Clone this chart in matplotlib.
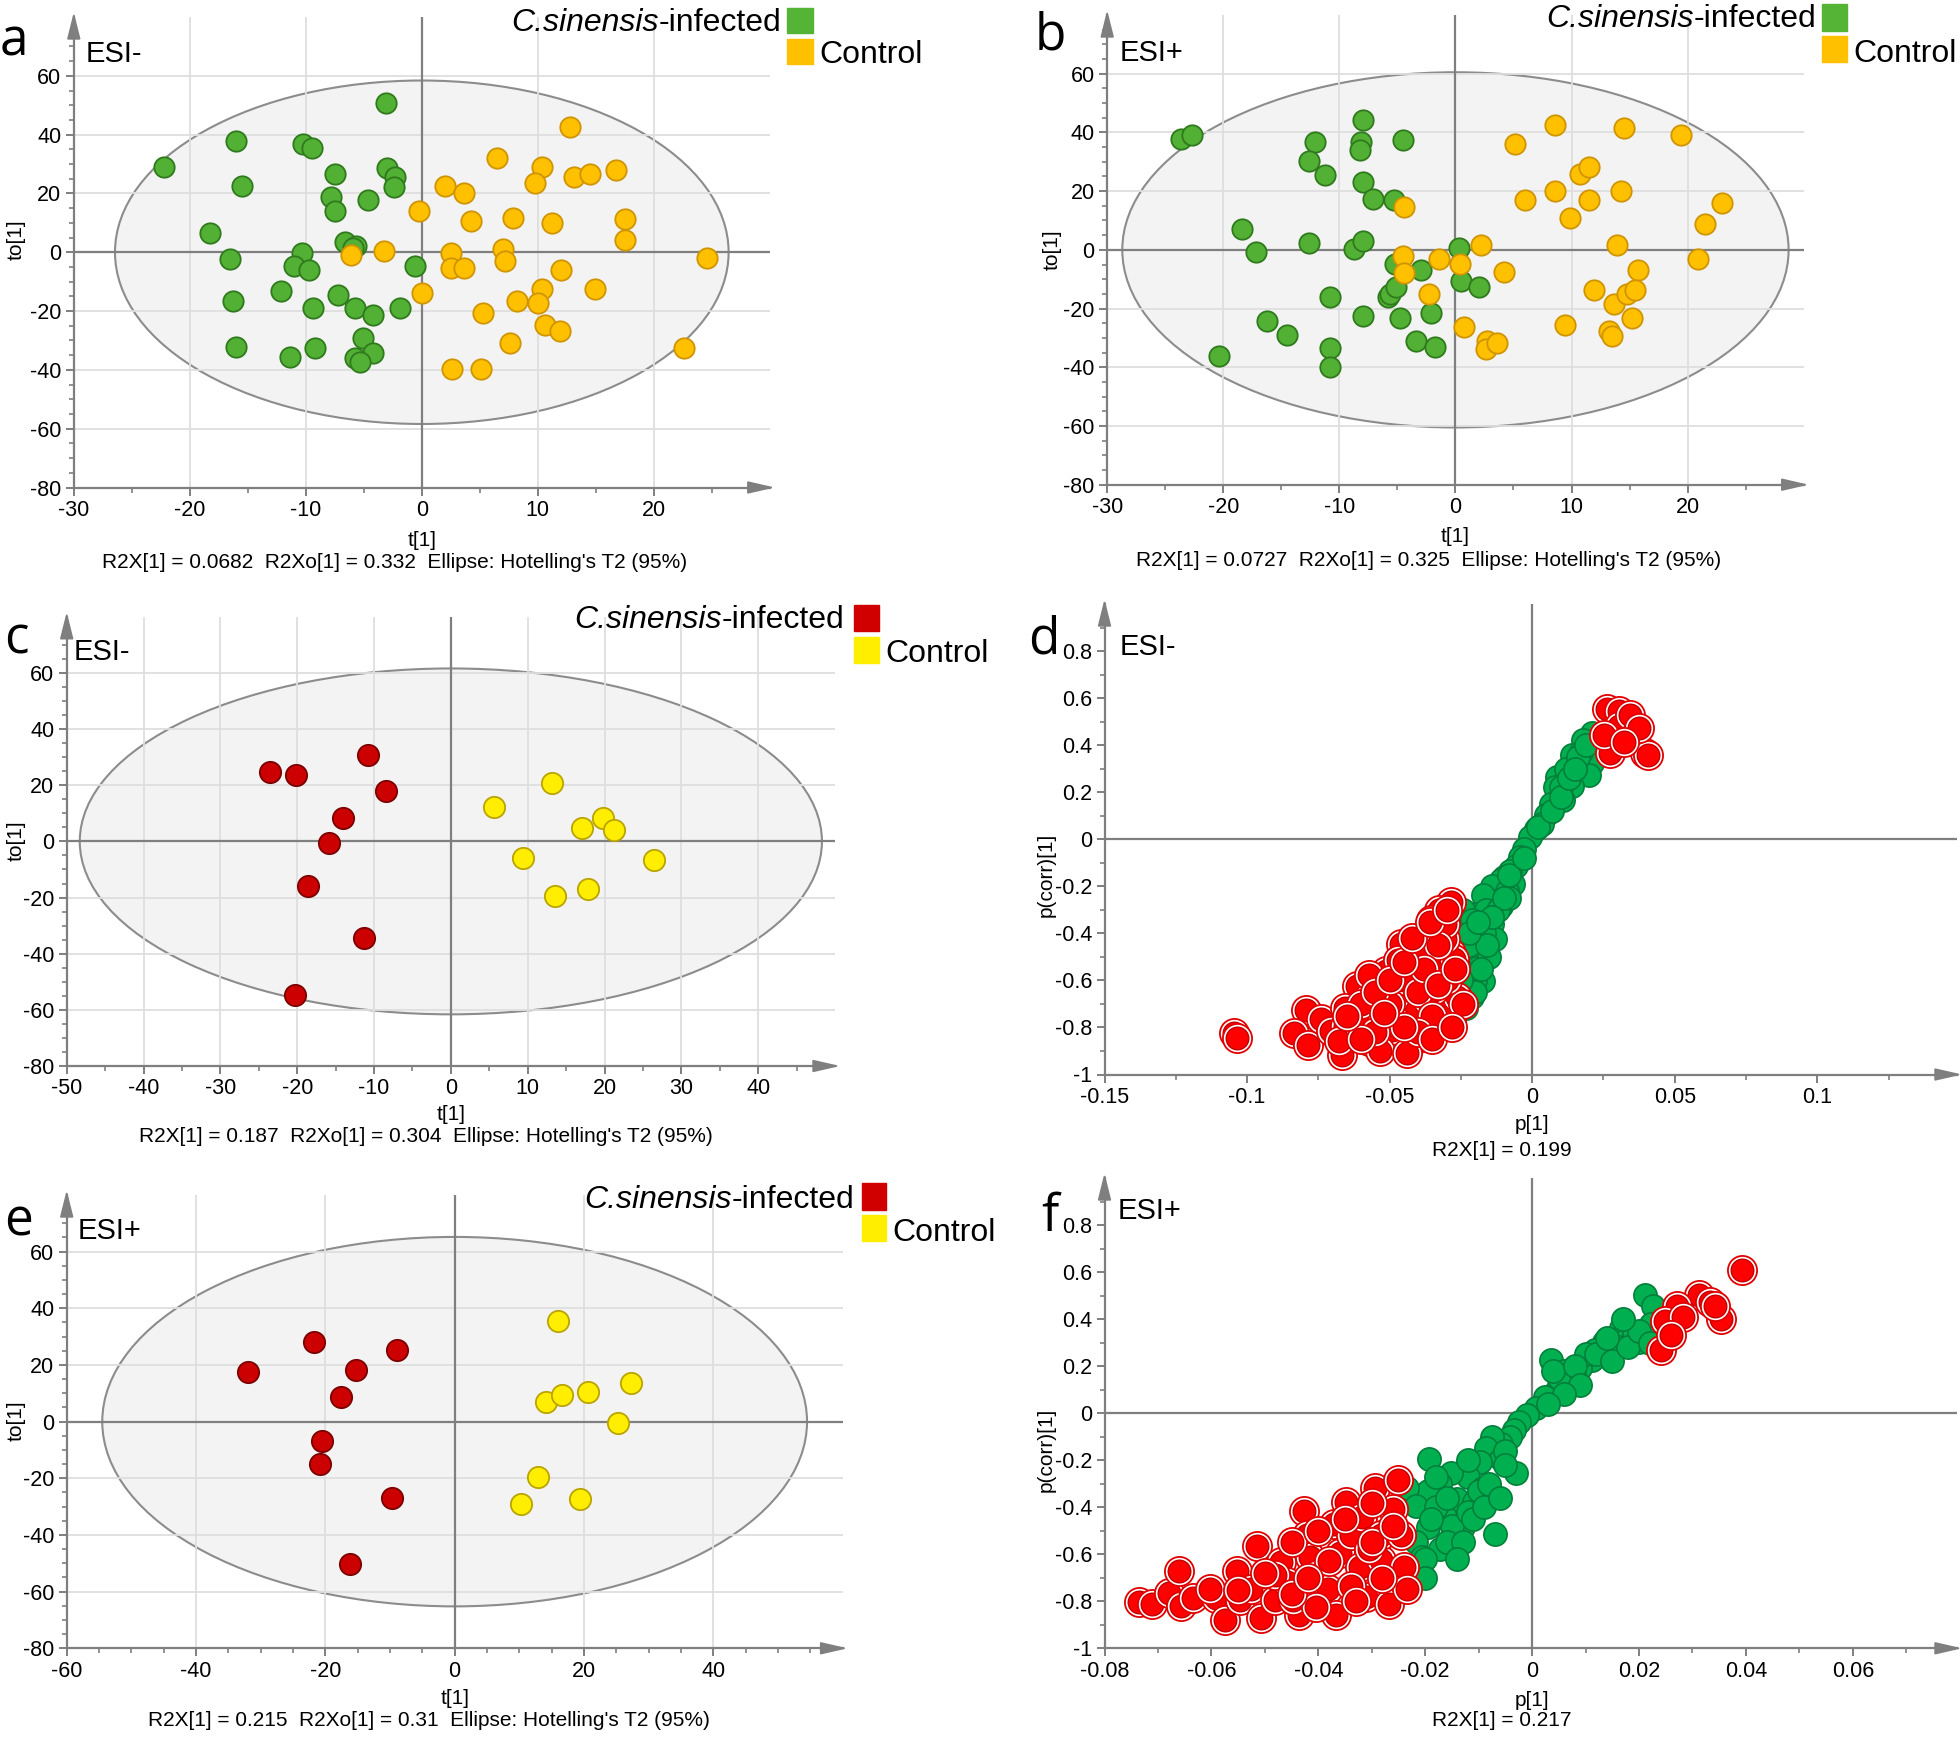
import matplotlib
matplotlib.use('Agg')
import matplotlib.pyplot as plt
from matplotlib.patches import Ellipse, Polygon, Rectangle
import numpy as np

plt.rcParams['font.family'] = ['Liberation Sans', 'DejaVu Sans']

# ---------------- data ----------------
# a: OPLS-DA scores, ESI-, 36 vs 36
a_inf_t = [-22.2, -16.0, -15.5, -18.3, -16.5, -16.3, -16.0, -10.2, -9.5, -7.5, -7.8, -7.5,
           -3.1, -3.0, -2.3, -2.4, -4.6, -6.6, -5.7, -5.9, -10.3, -11.0, -9.7, -12.1,
           -7.2, -9.4, -5.8, -4.2, -1.9, -0.6, -5.1, -4.2, -5.8, -5.3, -11.4, -9.2]
a_inf_to = [29.0, 37.8, 22.4, 6.4, -2.4, -16.6, -32.1, 36.9, 35.4, 26.7, 18.9, 14.1,
            50.9, 28.5, 25.5, 22.2, 17.6, 3.5, 2.0, 1.4, -0.4, -4.7, -6.0, -13.1,
            -14.4, -18.9, -18.9, -21.4, -18.9, -4.7, -29.1, -34.4, -35.9, -37.4, -35.7, -32.6]
a_ctl_t = [12.8, 6.5, 10.4, 9.8, 13.1, 14.5, 16.7, 2.0, 3.6, -0.2, 4.2, 7.9,
           11.2, 17.5, 17.5, -3.3, -6.1, 2.5, 2.5, 3.6, 7.0, 7.2, 12.0, 24.6,
           0.0, 10.4, 14.9, 8.2, 10.0, 5.3, 10.6, 11.9, 7.6, 22.6, 2.6, 5.1]
a_ctl_to = [42.6, 31.9, 29.0, 23.7, 25.5, 26.7, 27.9, 22.4, 20.2, 14.1, 10.6, 11.7,
            10.0, 11.2, 4.0, 0.5, -1.1, -0.4, -5.5, -5.5, 1.1, -3.0, -6.0, -1.8,
            -13.7, -12.4, -12.4, -16.6, -17.3, -20.8, -24.8, -26.7, -30.9, -32.6, -39.8, -39.8]

# b: OPLS-DA scores, ESI+
b_inf_t = [-23.6, -22.7, -18.4, -17.2, -12.1, -12.6, -11.2, -12.6, -8.0, -8.1, -8.2, -4.5,
           -8.0, -7.1, -5.3, -8.7, -8.0, -5.2, -3.0, 0.3, 0.5, 2.0, -5.8, -5.6,
           -5.1, -10.8, -16.2, -14.5, -20.4, -10.8, -10.8, -8.0, -4.8, -2.1, -3.4, -1.8]
b_inf_to = [37.9, 39.0, 7.0, -0.8, 36.7, 30.2, 25.5, 2.4, 44.4, 36.9, 34.1, 37.4,
            23.1, 17.2, 17.0, 0.3, 3.0, -4.7, -7.0, 0.5, -10.6, -12.5, -16.1, -15.1,
            -12.6, -16.0, -24.4, -28.9, -36.1, -33.6, -39.9, -22.5, -23.1, -21.4, -30.9, -33.2]
b_ctl_t = [-4.4, -4.5, -4.4, -1.4, 0.4, 2.2, -2.3, 4.2, 0.7, 2.7, 2.6, 3.6,
           5.1, 6.0, 8.6, 8.6, 9.9, 10.7, 11.5, 11.5, 14.5, 14.3, 13.9, 15.7,
           11.9, 13.7, 14.8, 15.5, 15.2, 9.4, 13.2, 13.5, 19.4, 23.0, 21.5, 20.9]
b_ctl_to = [14.6, -2.0, -7.8, -3.0, -4.7, 1.8, -15.0, -7.7, -26.2, -30.9, -33.8, -31.9,
            36.1, 17.1, 42.5, 20.1, 10.7, 26.0, 28.3, 17.1, 41.4, 20.1, 1.8, -6.7,
            -13.6, -18.5, -15.1, -13.7, -23.1, -25.5, -27.7, -29.2, 39.0, 16.0, 8.8, -3.0]

# c: ESI-, 9 vs 9
c_inf_t = [-23.6, -20.2, -10.8, -8.5, -14.1, -15.8, -18.6, -11.3, -20.3]
c_inf_to = [24.7, 23.6, 30.7, 17.8, 8.2, -0.6, -16.0, -34.4, -54.6]
c_ctl_t = [5.6, 13.2, 19.8, 17.1, 21.2, 9.4, 26.4, 13.6, 17.9]
c_ctl_to = [12.4, 20.7, 8.4, 4.8, 4.1, -6.0, -6.5, -19.5, -17.1]

# e: ESI+, 9 vs 9
e_inf_t = [-32.0, -21.7, -8.9, -15.3, -17.6, -20.5, -20.8, -9.7, -16.2]
e_inf_to = [17.6, 28.1, 25.3, 18.4, 8.8, -6.8, -14.9, -26.8, -50.4]
e_ctl_t = [16.0, 14.2, 16.6, 20.7, 27.2, 25.3, 12.9, 10.3, 19.4]
e_ctl_to = [35.5, 7.0, 9.4, 10.6, 13.5, -0.5, -19.6, -29.1, -27.3]

# d: S-plot ESI-
d_green_p = [0.0210, 0.0179, 0.0200, 0.0138, 0.0165, 0.0210, 0.0200, 0.0138, 0.0087, 0.0080,
             0.0107, 0.0066, 0.0049, 0.0035, 0.0014, -0.0006, -0.0027, -0.0041, -0.0058, -0.0078,
             -0.0099, -0.0109, -0.0068, -0.0140, -0.0089, -0.0130, -0.0171, -0.0198, -0.0161, -0.0109,
             -0.0243, -0.0212, -0.0140, -0.0192, -0.0130, -0.0243, -0.0161, -0.0223, -0.0192, -0.0253,
             -0.0231, -0.0171, -0.0212, -0.0247, -0.0212, -0.0243, -0.0233,
             0.0120, 0.0170, 0.0100, -0.0080, -0.0170, -0.0200, -0.0150, -0.0220, -0.0120,
             -0.0200, -0.0180, -0.0160, -0.0220, -0.0100, -0.0140, -0.0190, -0.0250, -0.0080,
             -0.0030, 0.0020, 0.0070, 0.0100, 0.0130, 0.0160, 0.0190, 0.0150]
d_green_pcorr = [0.452, 0.421, 0.382, 0.359, 0.324, 0.324, 0.274, 0.228, 0.266, 0.220,
                 0.166, 0.150, 0.104, 0.065, 0.042, 0.011, -0.042, -0.074, -0.113, -0.136,
                 -0.159, -0.175, -0.190, -0.198, -0.221, -0.263, -0.237, -0.319, -0.299, -0.283,
                 -0.299, -0.345, -0.361, -0.407, -0.423, -0.423, -0.485, -0.500, -0.546, -0.546,
                 -0.573, -0.601, -0.624, -0.639, -0.670, -0.686, -0.717,
                 0.300, 0.370, 0.220, -0.250, -0.400, -0.600, -0.500, -0.450, -0.300,
                 -0.650, -0.550, -0.450, -0.400, -0.250, -0.330, -0.350, -0.600, -0.150,
                 -0.080, 0.050, 0.120, 0.180, 0.260, 0.350, 0.400, 0.300]
d_red_p = [-0.1047, -0.1034, -0.0795, -0.0835, -0.0787, -0.0666, -0.0742, -0.0707, -0.0655, -0.0604,
           -0.0573, -0.0532, -0.0490, -0.0429, -0.0377, -0.0326, -0.0284, -0.0614, -0.0573, -0.0511,
           -0.0490, -0.0449, -0.0408, -0.0367, -0.0305, -0.0264, -0.0460, -0.0470, -0.0408, -0.0367,
           -0.0377, -0.0326, -0.0284, -0.0274, -0.0305, -0.0284, -0.0326, -0.0356, -0.0305, -0.0243,
           -0.0542, -0.0655, -0.0408, -0.0490, -0.0676, -0.0532, -0.0439, -0.0346, -0.0573, -0.0470,
           -0.0450, -0.0400, -0.0350, -0.0500, -0.0300, -0.0550, -0.0400, -0.0330, -0.0380, -0.0450,
           -0.0600, -0.0550, -0.0500, -0.0450, -0.0420, -0.0360, -0.0300, -0.0600, -0.0350, -0.0280,
           -0.0650, -0.0520, -0.0330, -0.0270,
           0.0262, 0.0303, 0.0303, 0.0344, 0.0354, 0.0396, 0.0406, 0.0272, 0.0251, 0.0375, 0.0323]
d_red_pcorr = [-0.825, -0.844, -0.724, -0.822, -0.875, -0.915, -0.763, -0.817, -0.794, -0.794,
               -0.856, -0.841, -0.763, -0.872, -0.841, -0.794, -0.763, -0.624, -0.670, -0.562,
               -0.639, -0.686, -0.732, -0.686, -0.717, -0.670, -0.446, -0.515, -0.485, -0.392,
               -0.500, -0.562, -0.485, -0.508, -0.423, -0.268, -0.299, -0.345, -0.361, -0.701,
               -0.717, -0.717, -0.577, -0.810, -0.856, -0.902, -0.910, -0.639, -0.577, -0.779,
               -0.600, -0.650, -0.750, -0.700, -0.600, -0.820, -0.820, -0.450, -0.550, -0.800,
               -0.700, -0.650, -0.600, -0.520, -0.420, -0.350, -0.300, -0.850, -0.850, -0.800,
               -0.750, -0.740, -0.620, -0.550,
               0.553, 0.545, 0.483, 0.529, 0.429, 0.367, 0.359, 0.367, 0.444, 0.475, 0.413]

# f: S-plot ESI+
f_green_p = [0.0211, 0.0227, 0.0222, 0.0200, 0.0167, 0.0178, 0.0134, 0.0150, 0.0112, 0.0117,
             0.0090, 0.0079, 0.0068, 0.0035, 0.0046, 0.0024, 0.0008, -0.0009, -0.0025, -0.0033,
             -0.0042, -0.0058, -0.0075, -0.0086, -0.0058, -0.0031, -0.0097, -0.0119, -0.0091, -0.0152,
             -0.0192, -0.0173, -0.0141, -0.0108, -0.0195, -0.0234, -0.0217, -0.0163, -0.0130, -0.0069,
             -0.0195, -0.0217, -0.0173, -0.0206, -0.0217, -0.0223, -0.0239,
             0.0100, 0.0060, 0.0140, 0.0190, 0.0160, 0.0050, -0.0150, -0.0180, -0.0120, -0.0200,
             -0.0160, -0.0100, -0.0050,
             -0.0130, -0.0110, -0.0160, -0.0080, -0.0050, -0.0090, -0.0190, -0.0140, -0.0200, -0.0180,
             -0.0120, -0.0060, 0.0040, 0.0080, 0.0120, 0.0150, 0.0180, 0.0200, 0.0220, 0.0090,
             0.0060, 0.0030, 0.0140, 0.0170]
f_green_pcorr = [0.502, 0.456, 0.378, 0.301, 0.363, 0.317, 0.301, 0.255, 0.224, 0.270,
                 0.193, 0.162, 0.131, 0.224, 0.100, 0.070, 0.023, -0.008, -0.039, -0.070,
                 -0.100, -0.131, -0.100, -0.147, -0.193, -0.255, -0.208, -0.270, -0.317, -0.255,
                 -0.193, -0.301, -0.363, -0.378, -0.332, -0.317, -0.394, -0.440, -0.486, -0.514,
                 -0.486, -0.548, -0.579, -0.610, -0.656, -0.703, -0.517,
                 0.250, 0.180, 0.280, 0.340, 0.280, 0.150, -0.480, -0.400, -0.420, -0.620,
                 -0.550, -0.330, -0.160,
                 -0.550, -0.450, -0.360, -0.300, -0.220, -0.400, -0.450, -0.620, -0.700, -0.270,
                 -0.200, -0.360, 0.180, 0.200, 0.250, 0.220, 0.280, 0.350, 0.300, 0.120,
                 0.080, 0.040, 0.320, 0.400]
f_red_p = [-0.0736, -0.0712, -0.0679, -0.0660, -0.0656, -0.0635, -0.0591, -0.0574, -0.0552, -0.0547,
           -0.0514, -0.0508, -0.0525, -0.0481, -0.0470, -0.0459, -0.0437, -0.0426, -0.0421, -0.0415,
           -0.0404, -0.0382, -0.0366, -0.0371, -0.0349, -0.0360, -0.0338, -0.0322, -0.0318, -0.0311,
           -0.0294, -0.0283, -0.0283, -0.0267, -0.0261, -0.0250, -0.0245, -0.0239, -0.0234, -0.0481,
           -0.0602, -0.0448, -0.0404, -0.0338, -0.0305,
           -0.0450, -0.0400, -0.0350, -0.0300, -0.0280, -0.0330, -0.0450, -0.0500, -0.0550, -0.0380,
           -0.0300, -0.0260, -0.0420,
           0.0392, 0.0312, 0.0332, 0.0354, 0.0271, 0.0249, 0.0242, 0.0282, 0.0260, 0.0343]
f_red_pcorr = [-0.803, -0.811, -0.764, -0.672, -0.819, -0.788, -0.788, -0.880, -0.672, -0.795,
               -0.564, -0.873, -0.749, -0.795, -0.633, -0.718, -0.857, -0.417, -0.517, -0.610,
               -0.687, -0.749, -0.857, -0.471, -0.378, -0.595, -0.517, -0.656, -0.440, -0.780,
               -0.317, -0.626, -0.517, -0.811, -0.409, -0.286, -0.517, -0.656, -0.749, -0.687,
               -0.749, -0.795, -0.826, -0.733, -0.579,
               -0.550, -0.500, -0.450, -0.380, -0.700, -0.800, -0.770, -0.680, -0.750, -0.630,
               -0.550, -0.480, -0.700,
               0.610, 0.502, 0.471, 0.402, 0.456, 0.394, 0.270, 0.409, 0.332, 0.456]

# tick values / labels
score_yticks = [-80, -60, -40, -20, 0, 20, 40, 60]
score_ylabels = ['-80', '-60', '-40', '-20', '0', '20', '40', '60']
ab_xticks = [-30, -20, -10, 0, 10, 20]
ab_xlabels = ['-30', '-20', '-10', '0', '10', '20']
c_xticks = [-50, -40, -30, -20, -10, 0, 10, 20, 30, 40]
c_xlabels = ['-50', '-40', '-30', '-20', '-10', '0', '10', '20', '30', '40']
e_xticks = [-60, -40, -20, 0, 20, 40]
e_xlabels = ['-60', '-40', '-20', '0', '20', '40']
s_yticks = [-1, -0.8, -0.6, -0.4, -0.2, 0, 0.2, 0.4, 0.6, 0.8]
s_ylabels = ['-1', '-0.8', '-0.6', '-0.4', '-0.2', '0', '0.2', '0.4', '0.6', '0.8']
d_xticks = [-0.15, -0.1, -0.05, 0, 0.05, 0.1]
d_xlabels = ['-0.15', '-0.1', '-0.05', '0', '0.05', '0.1']
f_xticks = [-0.08, -0.06, -0.04, -0.02, 0, 0.02, 0.04, 0.06]
f_xlabels = ['-0.08', '-0.06', '-0.04', '-0.02', '0', '0.02', '0.04', '0.06']

# ---------------- figure ----------------
W, H = 1960, 1738
fig = plt.figure(figsize=(W / 100, H / 100), dpi=100)
renderer = fig.canvas.get_renderer()
AX_COL = '#7f7f7f'
GRID_COL = '#dedede'
TICK_FS = 15.5


def fx(x):
    return x / W


def fy(y):
    return 1 - y / H


def make_axes(box, xlim, ylim, xticks, xlabels, yticks, ylabels, xminor, yminor, grid):
    l, t, r, b = box
    ax = fig.add_axes([fx(l), fy(b), (r - l) / W, (b - t) / H])
    ax.set_xlim(*xlim)
    ax.set_ylim(*ylim)
    ax.patch.set_visible(False)
    for s in ('top', 'right'):
        ax.spines[s].set_visible(False)
    for s in ('left', 'bottom'):
        ax.spines[s].set_color(AX_COL)
        ax.spines[s].set_linewidth(1.6)
    ax.set_xticks(xticks)
    ax.set_xticklabels(xlabels, fontsize=TICK_FS)
    ax.set_yticks(yticks)
    ax.set_yticklabels(ylabels, fontsize=TICK_FS)
    ax.set_xticks(xminor, minor=True)
    ax.set_yticks(yminor, minor=True)
    ax.tick_params(which='major', length=6, width=1.4, color=AX_COL, pad=3)
    ax.tick_params(which='minor', length=3.5, width=1.2, color=AX_COL)
    if grid:
        for v in xticks:
            if v != 0 and v != xlim[0]:
                ax.axvline(v, color=GRID_COL, lw=1.3, zorder=1.5)
        for v in yticks:
            if v != 0 and v != ylim[0]:
                ax.axhline(v, color=GRID_COL, lw=1.3, zorder=1.5)
    ax.axhline(0, color=AX_COL, lw=1.6, zorder=2)
    ax.axvline(0, color=AX_COL, lw=1.6, zorder=2)
    # arrow heads at the end of both axes
    fig.add_artist(Polygon([[fx(r + 2), fy(b)], [fx(r - 22), fy(b - 5.5)], [fx(r - 22), fy(b + 5.5)]],
                           closed=True, transform=fig.transFigure, color=AX_COL))
    fig.add_artist(Polygon([[fx(l), fy(t - 2)], [fx(l - 6), fy(t + 22)], [fx(l + 6), fy(t + 22)]],
                           closed=True, transform=fig.transFigure, color=AX_COL))
    return ax


def score_plot(ax, ell, inf_t, inf_to, ctl_t, ctl_to, inf_col, ctl_col, size):
    ax.add_patch(Ellipse((0, 0), 2 * ell[0], 2 * ell[1], facecolor='#f3f3f3',
                         edgecolor='#8c8c8c', lw=1.5, zorder=1))
    ax.scatter(inf_t, inf_to, s=size, c=inf_col[0], edgecolors=inf_col[1], linewidths=1.3, zorder=3)
    ax.scatter(ctl_t, ctl_to, s=size, c=ctl_col[0], edgecolors=ctl_col[1], linewidths=1.3, zorder=3)


def s_plot(ax, gp, gc, rp, rc):
    ax.scatter(gp, gc, s=280, c='#00b050', edgecolors='#007f3a', linewidths=1.2, zorder=3)
    for i, (x, y) in enumerate(zip(rp, rc)):
        z = 4 + i * 0.01
        ax.scatter([x], [y], s=440, facecolors='white', edgecolors='#e00000', linewidths=1.3, zorder=z)
        ax.scatter([x], [y], s=265, c='#ff0000', edgecolors='#c00000', linewidths=1.0, zorder=z + 0.005)


def legend(text_right, base1, sq_x, sq1, sq2, base2, col1, col2):
    tail = fig.text(fx(text_right), fy(base1), '-infected', ha='right', va='baseline', fontsize=23)
    x0 = tail.get_window_extent(renderer=renderer).x0
    fig.text(x0 / W, fy(base1), 'C.sinensis', ha='right', va='baseline', fontsize=23, style='italic')
    for (y0, y1), col in ((sq1, col1), (sq2, col2)):
        fig.add_artist(Rectangle((fx(sq_x[0]), fy(y1)), (sq_x[1] - sq_x[0]) / W, (y1 - y0) / H,
                                 transform=fig.transFigure, facecolor=col, edgecolor=col))
    fig.text(fx(sq_x[1] + 6), fy(base2), 'Control', ha='left', va='baseline', fontsize=23)


def labels(letter, lpos, esi, epos, xl, xlpos, yl, ylpos, foot, fpos):
    fig.text(fx(lpos[0]), fy(lpos[1]), letter, fontsize=37, family='Open Sans', va='baseline')
    fig.text(fx(epos[0]), fy(epos[1]), esi, fontsize=21, va='baseline')
    fig.text(fx(xlpos[0]), fy(xlpos[1]), xl, fontsize=15, ha='center', va='center')
    fig.text(fx(ylpos[0]), fy(ylpos[1]), yl, fontsize=15, ha='center', va='center', rotation=90)
    fig.text(fx(fpos[0]), fy(fpos[1]), foot, fontsize=15, ha='center', va='center')


score_minor = np.arange(-80, 80, 5)
green_pair = ('#52b035', '#2f7a1c')
orange_pair = ('#ffc000', '#cf9400')
red_pair = ('#cc0000', '#7a0000')
yellow_pair = ('#ffee00', '#b9a400')

# panel a
ax = make_axes((73.8, 17, 769.8, 487.5), (-30, 30), (-80, 80), ab_xticks, ab_xlabels,
               score_yticks, score_ylabels, np.arange(-30, 30, 5), score_minor, True)
score_plot(ax, (26.45, 58.4), a_inf_t, a_inf_to, a_ctl_t, a_ctl_to, green_pair, orange_pair, 215)
legend(781, 31, (787, 813), (8, 33), (39, 64), 63, '#55b435', '#ffc000')
labels('a', (0, 55), 'ESI-', (86, 62), 't[1]', (422, 540), 'to[1]', (16, 240),
       "R2X[1] = 0.0682  R2Xo[1] = 0.332  Ellipse: Hotelling's T2 (95%)", (395, 563))

# panel b
ax = make_axes((1107.2, 15, 1803.7, 484.7), (-30, 30), (-80, 80), ab_xticks, ab_xlabels,
               score_yticks, score_ylabels, np.arange(-30, 30, 5), score_minor, True)
score_plot(ax, (28.7, 60.5), b_inf_t, b_inf_to, b_ctl_t, b_ctl_to, green_pair, orange_pair, 215)
legend(1816, 27, (1822, 1847), (4, 31), (36, 62), 62, '#55b435', '#ffc000')
labels('b', (1035, 50), 'ESI+', (1120, 61), 't[1]', (1455, 536), 'to[1]', (1052, 250),
       "R2X[1] = 0.0727  R2Xo[1] = 0.325  Ellipse: Hotelling's T2 (95%)", (1429, 561))

# panel c
ax = make_axes((66.7, 616.8, 835, 1066), (-50, 50), (-80, 80), c_xticks, c_xlabels,
               score_yticks, score_ylabels, np.arange(-50, 50, 5), score_minor, True)
score_plot(ax, (48.3, 61.6), c_inf_t, c_inf_to, c_ctl_t, c_ctl_to, red_pair, yellow_pair, 235)
legend(844, 628, (854, 879), (605, 631), (637, 663), 662, '#d00000', '#ffee00')
labels('c', (4, 654), 'ESI-', (74, 660), 't[1]', (451, 1114), 'to[1]', (16, 841),
       "R2X[1] = 0.187  R2Xo[1] = 0.304  Ellipse: Hotelling's T2 (95%)", (426, 1136))

# panel d
ax = make_axes((1104.5, 604, 1957, 1074.5), (-0.15, 0.149), (-1, 1.0), d_xticks, d_xlabels,
               s_yticks, s_ylabels, np.arange(-0.15, 0.14, 0.025), np.arange(-1, 0.95, 0.1), False)
s_plot(ax, d_green_p, d_green_pcorr, d_red_p, d_red_pcorr)
labels('d', (1028, 653), 'ESI-', (1120, 655), 'p[1]', (1532, 1125), 'p(corr)[1]', (1046, 875),
       'R2X[1] = 0.199', (1502, 1151))

# panel e
ax = make_axes((66.7, 1195, 842.6, 1648.3), (-60, 60), (-80, 80), e_xticks, e_xlabels,
               score_yticks, score_ylabels, np.arange(-60, 60, 5), score_minor, True)
score_plot(ax, (54.5, 65.2), e_inf_t, e_inf_to, e_ctl_t, e_ctl_to, red_pair, yellow_pair, 235)
legend(854, 1208, (862, 886), (1183, 1210), (1215, 1241), 1241, '#d00000', '#ffee00')
labels('e', (4, 1235), 'ESI+', (78, 1239), 't[1]', (455, 1699), 'to[1]', (16, 1421),
       "R2X[1] = 0.215  R2Xo[1] = 0.31  Ellipse: Hotelling's T2 (95%)", (429, 1721))

# panel f
ax = make_axes((1104.5, 1178, 1957, 1648.3), (-0.08, 0.0795), (-1, 1.0), f_xticks, f_xlabels,
               s_yticks, s_ylabels, np.arange(-0.08, 0.075, 0.01), np.arange(-1, 0.95, 0.1), False)
s_plot(ax, f_green_p, f_green_pcorr, f_red_p, f_red_pcorr)
labels('f', (1041, 1231), 'ESI+', (1118, 1219), 'p[1]', (1532, 1700), 'p(corr)[1]', (1046, 1450),
       'R2X[1] = 0.217', (1502, 1721))

fig.savefig('out.png', dpi=100)
